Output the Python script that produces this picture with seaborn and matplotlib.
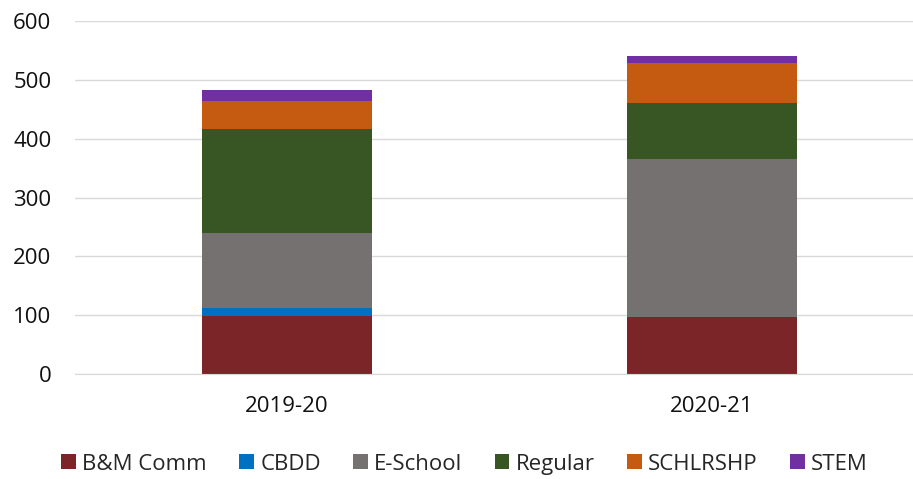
import pandas as pd
import numpy as np
import matplotlib.pyplot as plt
import seaborn as sns

years = ["2019-20", "2020-21"]
series = ["B&M Comm", "CBDD", "E-School", "Regular", "SCHLRSHP", "STEM"]
bm_comm = [99, 97]
cbdd = [13, 0]
e_school = [127, 269]
regular = [177, 94]
schlrshp = [48, 68]
stem = [19, 13]
colors = ["#7B2529", "#0070C0", "#767171", "#375623", "#C55A11", "#7030A0"]

values = [bm_comm, cbdd, e_school, regular, schlrshp, stem]

sns.set_style("white")
plt.rcParams['font.family'] = ['Open Sans', 'DejaVu Sans']

fig, ax = plt.subplots(figsize=(9.13, 4.79), dpi=100)

bottom = np.zeros(len(years))
for name, vals, col in zip(series, values, colors):
    df = pd.DataFrame({"year": years, "n": vals})
    sns.barplot(data=df, x="year", y="n", color=col, saturation=1, width=0.4,
                bottom=bottom, label=name, ax=ax, linewidth=0)
    bottom = bottom + np.array(vals)

ax.set_ylim(0, 600)
ax.set_xlim(-0.499, 1.473)
ax.set_yticks(range(0, 601, 100))
ax.yaxis.grid(True, color="#D9D9D9", linewidth=1)
ax.set_axisbelow(True)
for s in ["top", "right", "left"]:
    ax.spines[s].set_visible(False)
ax.spines["bottom"].set_color("#D9D9D9")
ax.tick_params(axis="both", length=0, labelsize=16, colors="#111111")
ax.tick_params(axis="y", pad=17)
ax.tick_params(axis="x", pad=16)
ax.set_xlabel("")
ax.set_ylabel("")

ax.legend(loc="center", bbox_to_anchor=(0.465, -0.255), ncol=6, frameon=False,
          fontsize=16, handlelength=0.65, handleheight=0.65, handletextpad=0.3,
          columnspacing=1.45)

plt.subplots_adjust(left=0.082, right=1.0, top=0.956, bottom=0.219)
plt.savefig("out.png")
